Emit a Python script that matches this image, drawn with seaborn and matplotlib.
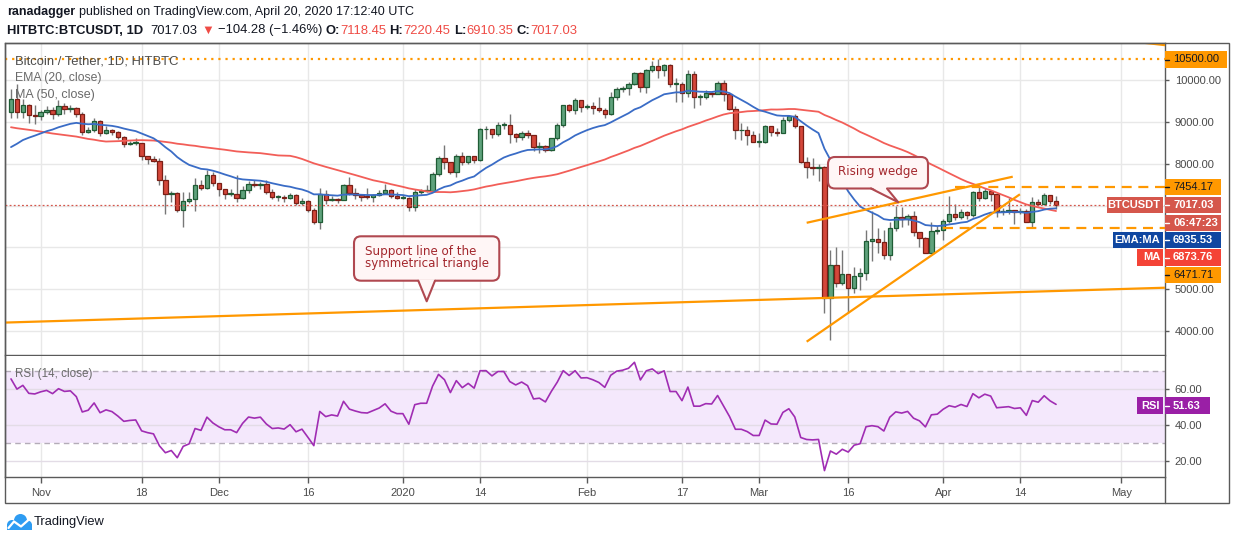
import numpy as np
import pandas as pd
import matplotlib
matplotlib.use("Agg")
import matplotlib.pyplot as plt
import matplotlib.dates as mdates
import matplotlib.transforms as mtransforms
from matplotlib.patches import FancyBboxPatch, Polygon, Rectangle, Circle
from matplotlib.lines import Line2D
import seaborn as sns

# ---------------------------------------------------------------- data
# daily closes before the visible window (Sep 7 - Oct 26 2019), used for EMA / MA / RSI warm-up
warmup_close = [10500, 10440, 10330, 10120, 10150, 10410, 10360, 10360, 10310, 10260,
                10180, 10160, 10240, 10170, 9990, 10030, 9700, 8530, 8430, 8060,
                8180, 8190, 8040, 8300,
                8340, 8390, 8230, 8150, 8150, 7870, 8200, 8200, 8590, 8590,
                8260, 8300, 8300, 8370, 8160, 8000, 8070, 7960, 7950, 8220,
                8200, 8030, 7450, 7440, 8660, 9250]

dates = pd.date_range("2019-10-27", "2020-04-20", freq="D")
first_open = 9250.0

close = [
    9550, 9230, 9420, 9160, 9140,                                            # Oct 27-31
    9230, 9290, 9200, 9390, 9320, 9340, 9200, 8770, 8820, 9030,              # Nov
    8740, 8820, 8770, 8640, 8480, 8500, 8510, 8180, 8120, 8080,
    7620, 7270, 7310, 6890, 7110, 7160, 7490, 7420, 7740, 7540,
    7400, 7290, 7290, 7190, 7380, 7520, 7490, 7510, 7330, 7200,              # Dec
    7210, 7180, 7250, 7070, 7110, 6890, 6610, 7280, 7130, 7170,
    7140, 7500, 7300, 7250, 7210, 7200, 7250, 7300, 7385, 7240, 7190,
    7190, 6970, 7330, 7360, 7360, 7760, 8145, 8050, 7800, 8200,              # Jan
    8050, 8200, 8100, 8824, 8830, 8720, 8920, 8920, 8720, 8650,
    8750, 8680, 8400, 8420, 8340, 8620, 8920, 9400, 9300, 9520, 9370,
    9380, 9340, 9290, 9200, 9610, 9780, 9820, 9900, 10170, 9850,             # Feb
    10240, 10330, 10240, 10360, 9920, 9920, 9700, 10160, 9610, 9610,
    9690, 9680, 9945, 9660, 9320, 8800, 8800, 8700, 8530,
    8530, 8900, 8760, 8750, 9050, 9150, 8900, 8040, 7930, 7910,              # Mar
    7920, 4800, 5580, 5160, 5370, 5030, 5320, 5380, 6150, 6200,
    6130, 5820, 6460, 6740, 6670, 6750, 6380, 6230, 5870, 6390, 6420,
    6640, 6800, 6740, 6850, 6770, 7330, 7180, 7345, 7280, 6860,              # Apr
    6880, 6900, 6840, 6860, 6620, 7090, 7040, 7265, 7118.45, 7017.03]

high = [
    9800, 9900, 9550, 9430, 9400,
    9300, 9380, 9370, 9530, 9450, 9420, 9370, 9230, 8880, 9100,
    9060, 8900, 8840, 8780, 8670, 8540, 8620, 8510, 8200, 8200,
    8130, 7740, 7350, 7330, 7330, 7320, 7650, 7620, 7860, 7800,
    7540, 7410, 7400, 7740, 7480, 7600, 7620, 7560, 7620, 7400,
    7260, 7260, 7300, 7280, 7190, 7140, 6940, 7430, 7380, 7220,
    7180, 7530, 7690, 7420, 7280, 7420, 7280, 7370, 7520, 7400, 7320,
    7250, 7210, 7410, 7400, 7500, 7800, 8200, 8460, 8050, 8230,
    8280, 8200, 8200, 8870, 8900, 8840, 9000, 9000, 9190, 8740,
    8780, 8800, 8690, 8520, 8440, 8620, 8980, 9420, 9430, 9570, 9530,
    9440, 9470, 9600, 9330, 9720, 9850, 9870, 9950, 10190, 10200,
    10260, 10450, 10500, 10400, 10380, 10050, 9960, 10250, 10230, 9670,
    9760, 9720, 9990, 10010, 9680, 9380, 8970, 8900, 8790,
    8740, 8940, 8900, 8850, 9130, 9180, 9200, 8900, 8170, 8150,
    7990, 7960, 5940, 6020, 5940, 5370, 5540, 5510, 6420, 6860,
    6470, 6420, 6620, 6980, 6970, 6790, 6860, 6290, 6260, 6600, 6520,
    6690, 7220, 7030, 6920, 6870, 7360, 7500, 7420, 7360, 7290,
    6940, 7190, 6900, 6950, 6920, 7200, 7150, 7300, 7250, 7220.45]

low = [
    9100, 9100, 9100, 8980, 8950,
    9050, 9200, 9080, 9150, 9200, 9250, 9120, 8700, 8750, 8770,
    8660, 8710, 8700, 8590, 8400, 8440, 8440, 8100, 8000, 8050,
    7500, 6800, 7080, 6850, 6500, 7060, 6860, 7380, 7410, 7470,
    7220, 7170, 7230, 7080, 7160, 7310, 7450, 7400, 7280, 7150,
    7120, 7080, 7150, 7020, 7020, 6850, 6560, 6440, 7040, 7100,
    7060, 7130, 7260, 7160, 7120, 7150, 7080, 7220, 7280, 7180, 7150,
    7160, 6860, 6860, 7270, 7330, 7350, 7700, 7880, 7760, 7680,
    7970, 8000, 8030, 8080, 8600, 8630, 8670, 8840, 8500, 8530,
    8560, 8610, 8300, 8250, 8290, 8310, 8560, 8880, 9250, 9200, 9250,
    9320, 9200, 9230, 9100, 9160, 9540, 9720, 9650, 9880, 9730,
    9690, 10200, 10050, 10100, 9830, 9470, 9480, 9600, 9330, 9400,
    9560, 9610, 9660, 9500, 9290, 8600, 8580, 8450, 8520,
    8410, 8500, 8660, 8670, 8730, 9010, 8870, 8020, 7650, 7730,
    7600, 4430, 3780, 5060, 5100, 4430, 4920, 4990, 5230, 5670,
    5860, 5720, 5700, 6400, 6480, 6540, 6280, 6020, 5860, 5860, 6330,
    6180, 6590, 6650, 6680, 6680, 6720, 7110, 7160, 7120, 6730,
    6780, 6800, 6560, 6790, 6600, 6470, 6990, 7020, 7050, 6910.35]

tick_dates = ["2019-11-01", "2019-11-18", "2019-12-01", "2019-12-16", "2020-01-01",
              "2020-01-14", "2020-02-01", "2020-02-17", "2020-03-01", "2020-03-16",
              "2020-04-01", "2020-04-14", "2020-05-01"]
tick_labels = ["Nov", "18", "Dec", "16", "2020", "14", "Feb", "17", "Mar", "16",
               "Apr", "14", "May"]
price_ticks = [4000, 5000, 8000, 9000, 10000]
price_grid = [4000, 5000, 6000, 7000, 8000, 9000, 10000]
rsi_ticks = [20, 40, 60]

support_dates = ["2019-10-26 00:00", "2020-05-08 08:00"]
support_prices = [4202, 5036]
wedge_up_dates = ["2020-03-09 00:00", "2020-04-12 17:00"]
wedge_up_prices = [6590, 7693]
wedge_lo_dates = ["2020-03-09 00:00", "2020-04-13 22:00"]
wedge_lo_prices = [3745, 7272]
tri_up_dates = ["2020-05-01 00:00", "2020-05-09 00:00"]
tri_up_prices = [10960, 10830]

level_top = 10500.00
level_resist = 7454.17
resist_start = "2020-04-03 00:00"
level_support = 6471.71
support_start = "2020-04-01 00:00"
last_price = 7017.03
ema_last = 6935.53
ma_last = 6873.76
rsi_last = 51.63
countdown = "06:47:23"

# ---------------------------------------------------------------- style
W, H = 1234, 541
GREEN, GREEN_E = "#5fa27c", "#1f5c35"
RED, RED_E = "#d4473a", "#7a1f16"
WICK = "#777777"
EMA_C, MA_C = "#3a6cc6", "#f25e58"
ORANGE = "#ff9800"
RSI_C = "#a02db3"
BAND = "#f4e8fc"
GRID = "#e8e8e8"
AXC = "#5a5a5a"
TXT = "#4a4a4a"
LBL_RED = "#d5574c"

sns.set_theme(style="white")
plt.rcParams["font.family"] = ["Liberation Sans", "DejaVu Sans"]
plt.rcParams["axes.unicode_minus"] = False

fig = plt.figure(figsize=(W / 100, H / 100), dpi=100)
fig.patch.set_facecolor("white")
renderer = fig.canvas.get_renderer()
pix = mtransforms.Affine2D().scale(1, -1).translate(0, H)


def rect_axes(x0, y0, x1, y1):
    return [x0 / W, 1 - y1 / H, (x1 - x0) / W, (y1 - y0) / H]


ax = fig.add_axes(rect_axes(5, 43.3, 1165, 354.5))
axr = fig.add_axes(rect_axes(5, 355.5, 1165, 477.3), sharex=ax)

# ---------------------------------------------------------------- indicators
all_close = pd.Series(warmup_close + close, dtype=float)
n0 = len(warmup_close)
ema = all_close.ewm(span=20, adjust=False).mean().iloc[n0:].to_numpy()
ma = all_close.rolling(50).mean().iloc[n0:].to_numpy()
delta = all_close.diff()
gain = delta.clip(lower=0).ewm(alpha=1 / 14, adjust=False).mean()
loss = (-delta.clip(upper=0)).ewm(alpha=1 / 14, adjust=False).mean()
rsi = (100 - 100 / (1 + gain / loss)).iloc[n0:].to_numpy()

xs = mdates.date2num(dates.to_pydatetime())
o = np.array([first_open] + close[:-1], dtype=float)
c = np.array(close, dtype=float)
hi = np.array(high, dtype=float)
lo = np.array(low, dtype=float)
assert len(c) == len(dates) == len(hi) == len(lo)


def dnum(lst):
    return mdates.date2num(pd.to_datetime(lst, format="ISO8601").to_pydatetime())


nov1 = dnum(["2019-11-01"])[0]
x_left, x_right = nov1 - 6.01, nov1 + 189.35
tick_x = dnum(tick_dates)

# ---------------------------------------------------------------- price panel
for p in price_grid:
    ax.axhline(p, color=GRID, lw=1, zorder=0)
for t in tick_x:
    ax.axvline(t, color=GRID, lw=1, zorder=0)
    axr.axvline(t, color=GRID, lw=1, zorder=0)

up = c >= o
bottom = np.minimum(o, c)
height = np.maximum(np.abs(c - o), 22)
ax.vlines(xs, lo, hi, colors=WICK, lw=1, zorder=3)
ax.bar(xs[up], height[up], bottom=bottom[up], width=0.74, color=GREEN,
       edgecolor=GREEN_E, linewidth=0.9, zorder=4)
ax.bar(xs[~up], height[~up], bottom=bottom[~up], width=0.74, color=RED,
       edgecolor=RED_E, linewidth=0.9, zorder=4)

ind = pd.DataFrame({"x": xs, "ema": ema, "ma": ma, "rsi": rsi})
sns.lineplot(data=ind, x="x", y="ma", ax=ax, color=MA_C, lw=1.3, zorder=5, estimator=None)
sns.lineplot(data=ind, x="x", y="ema", ax=ax, color=EMA_C, lw=1.3, zorder=5, estimator=None)

ax.axhline(level_top, color=ORANGE, lw=1.6, ls=(0, (1, 2.2)), zorder=6)
ax.axhline(last_price, color=LBL_RED, lw=0.9, ls=(0, (1.5, 1.8)), zorder=6)
ax.plot([dnum([resist_start])[0], x_right], [level_resist] * 2, color=ORANGE, lw=1.6,
        ls=(0, (4.5, 3)), zorder=6)
ax.plot([dnum([support_start])[0], x_right], [level_support] * 2, color=ORANGE, lw=1.6,
        ls=(0, (4.5, 3)), zorder=6)
for dts, prs in [(support_dates, support_prices), (wedge_up_dates, wedge_up_prices),
                 (wedge_lo_dates, wedge_lo_prices), (tri_up_dates, tri_up_prices)]:
    ax.plot(dnum(dts), prs, color=ORANGE, lw=1.6, zorder=6, solid_capstyle="butt")

ax.set_xlim(x_left, x_right)
ax.set_ylim(3438, 10885)
ax.set_xlabel("")
ax.set_ylabel("")
ax.yaxis.tick_right()
ax.set_yticks(price_ticks)
ax.set_yticklabels([f"{v:.2f}" for v in price_ticks])
ax.tick_params(axis="y", length=3, width=1, color=AXC, pad=4, labelsize=8, labelcolor=TXT,
               right=True, left=False)
ax.tick_params(axis="x", bottom=False, labelbottom=False)
ax.grid(False)

# ---------------------------------------------------------------- RSI panel
axr.axhspan(30, 70, fc=BAND, ec="none", zorder=0)
for v in rsi_ticks:
    axr.axhline(v, color="#e3dce6", lw=1, zorder=0.5)
for v in (70, 30):
    axr.axhline(v, color="#b4acb8", lw=1, ls=(0, (4, 3)), zorder=1)
sns.lineplot(data=ind, x="x", y="rsi", ax=axr, color=RSI_C, lw=1.2, zorder=5, estimator=None)
axr.set_ylim(10.75, 78.9)
axr.set_xlim(x_left, x_right)
axr.set_xlabel("")
axr.set_ylabel("")
axr.yaxis.tick_right()
axr.set_yticks(rsi_ticks)
axr.set_yticklabels([f"{v:.2f}" for v in rsi_ticks])
axr.tick_params(axis="y", length=3, width=1, color=AXC, pad=4, labelsize=8, labelcolor=TXT,
                right=True, left=False)
axr.set_xticks(tick_x)
axr.set_xticklabels(tick_labels)
axr.tick_params(axis="x", length=4, width=1, color=AXC, pad=4, labelsize=8, labelcolor=TXT,
                bottom=True)
axr.grid(False)

for a in (ax, axr):
    for s in a.spines.values():
        s.set_color(AXC)
        s.set_linewidth(1)
axr.spines["top"].set_visible(False)

# outer frame
fig.add_artist(Rectangle((5, 43.3), 1224, 459.7, transform=pix, fill=False, ec=AXC, lw=1, zorder=20))
fig.add_artist(Line2D([1165, 1165], [477, 503], transform=pix, color=AXC, lw=1, zorder=20))


# ---------------------------------------------------------------- text helpers
def width_px(s, size, weight="normal", family=None):
    kw = dict(fontsize=size, fontweight=weight)
    if family:
        kw["family"] = family
    t1 = fig.text(0, 0, "|" + s + "|", **kw)
    t2 = fig.text(0, 0, "||", **kw)
    w = t1.get_window_extent(renderer).width - t2.get_window_extent(renderer).width
    t1.remove()
    t2.remove()
    return w


def ptext(x, y, s, size, color, weight="normal", ha="left", va="center", z=12, family=None):
    kw = dict(transform=pix, fontsize=size, color=color, fontweight=weight, ha=ha, va=va, zorder=z)
    if family:
        kw["family"] = family
    return fig.text(x, y, s, **kw)


def fit(s, target, weight="normal", family=None):
    return 10 * target / width_px(s, 10, weight, family)


def seg_line(x, y, segs, target):
    total = sum(width_px(s, 10, w) for s, _, w in segs)
    size = 10 * target / total
    for s, col, w in segs:
        body = s.strip()
        lead = s[: len(s) - len(s.lstrip())]
        xx = x + (width_px(lead, size, w) if lead else 0)
        ptext(xx, y, body, size, col, w)
        x += width_px(s, size, w)


DARK = "#131722"
VRED = "#ef4b45"
seg_line(7, 12.5, [("ranadagger", DARK, "bold"),
                   (" published on TradingView.com, April 20, 2020 17:12:40 UTC", DARK, "normal")], 406)
seg_line(7, 30.5, [("HITBTC:BTCUSDT, 1D", DARK, "bold"), ("  7017.03 ", DARK, "normal"),
                   ("\u25BC", VRED, "normal"), (" \u2212104.28 (\u22121.46%) ", DARK, "normal"),
                   ("O:", DARK, "bold"), ("7118.45", VRED, "normal"), (" H:", DARK, "bold"),
                   ("7220.45", VRED, "normal"), (" L:", DARK, "bold"), ("6910.35", VRED, "normal"),
                   (" C:", DARK, "bold"), ("7017.03", VRED, "normal")], 571)

s1 = "Bitcoin / Tether, 1D, HITBTC"
ptext(15, 61, s1, fit(s1, 163), "#4d4d4d")
s2 = "EMA (20, close)"
ptext(15, 77.7, s2, fit(s2, 86.5), "#6a6a6a")
s3 = "MA (50, close)"
ptext(15, 95, s3, fit(s3, 80), "#6a6a6a")
s4 = "RSI (14, close)"
ptext(15, 374, s4, fit(s4, 77), "#6a6a6a")


# ---------------------------------------------------------------- right axis labels
def label_box(x0, x1, yc, fc, text, tc, side="axis", h=16.5, weight="normal"):
    fig.add_artist(Rectangle((x0, yc - h / 2), x1 - x0, h, transform=pix, fc=fc, ec="none", zorder=15))
    if side == "axis":
        ptext(1173, yc, text, 8, tc, weight, z=16)
        fig.add_artist(Line2D([1165, 1169], [yc, yc], transform=pix, color=tc, lw=1, zorder=16))
    else:
        ptext(x1 - 3, yc, text, 8, tc, weight, ha="right", z=16)


label_box(1165, 1227, 59.5, ORANGE, f"{level_top:.2f}", DARK)
label_box(1165, 1221, 187.0, ORANGE, f"{level_resist:.2f}", DARK)
label_box(1165, 1221, 205.0, LBL_RED, f"{last_price:.2f}", "white", weight="bold")
label_box(1165, 1221, 223.0, LBL_RED, countdown, "white", weight="bold")
label_box(1165, 1221, 240.0, "#0f47a1", f"{ema_last:.2f}", "white", weight="bold")
label_box(1165, 1221, 257.5, "#f44336", f"{ma_last:.2f}", "white", weight="bold")
label_box(1165, 1221, 275.0, ORANGE, f"{level_support:.2f}", DARK)
label_box(1107, 1163, 205.0, LBL_RED, "BTCUSDT", "white", side="left", weight="bold")
label_box(1113, 1163, 240.0, "#0f47a1", "EMA:MA", "white", side="left", weight="bold")
label_box(1137, 1163, 257.5, "#f44336", "MA", "white", side="left", weight="bold")
label_box(1137, 1163, 405.6, "#9a1fa6", "RSI", "white", side="left", weight="bold")
label_box(1165, 1210, 405.6, "#9a1fa6", f"{rsi_last:.2f}", "white", weight="bold")


# ---------------------------------------------------------------- callouts
CALL_FONT = "DejaVu Sans"


def callout(x0, y0, x1, y1, bl, br, tip, lines, tx, tys, target_w, ha="left"):
    fill, edge = "#fff6f6", "#b04850"
    fig.add_artist(FancyBboxPatch((x0, y0), x1 - x0, y1 - y0, boxstyle="round,pad=0,rounding_size=7",
                                  transform=pix, fc=fill, ec=edge, lw=1.5, zorder=14))
    fig.add_artist(Polygon([(bl, y1 - 1.5), (br, y1 - 1.5), tip], closed=True, transform=pix,
                           fc=fill, ec="none", zorder=14.5))
    fig.add_artist(Line2D([bl, tip[0], br], [y1, tip[1], y1], transform=pix, color=edge,
                          lw=1.5, zorder=14.6))
    size = min(fit(s, w, family=CALL_FONT) for s, w in zip(lines, target_w))
    for s, ty in zip(lines, tys):
        ptext(tx, ty, s, size, "#a3272d", ha=ha, z=15, family=CALL_FONT)


callout(828, 157, 928, 188.5, 871, 887, (898.3, 202.3), ["Rising wedge"], 878, [172], [79],
        ha="center")
callout(354, 236.3, 499.3, 280.7, 418.3, 435, (426.7, 301.3),
        ["Support line of the", "symmetrical triangle"], 365, [251, 264], [112, 123])

# ---------------------------------------------------------------- TradingView logo
BLUE = "#2e9cf2"
for cx, cy, r in [(12, 525, 5), (20.5, 520.5, 6.5), (27.5, 525, 4.5)]:
    fig.add_artist(Circle((cx, cy), r, transform=pix, fc=BLUE, ec="none", zorder=20))
fig.add_artist(Rectangle((7, 524), 25, 6, transform=pix, fc=BLUE, ec="none", zorder=20))
fig.add_artist(Line2D([8.5, 14, 21, 29.5], [528, 521.5, 526.5, 519], transform=pix, color="white",
                      lw=1.6, zorder=21))
s5 = "TradingView"
ptext(34, 522, s5, fit(s5, 71), DARK)

fig.savefig("out.png", dpi=100, facecolor="white")
